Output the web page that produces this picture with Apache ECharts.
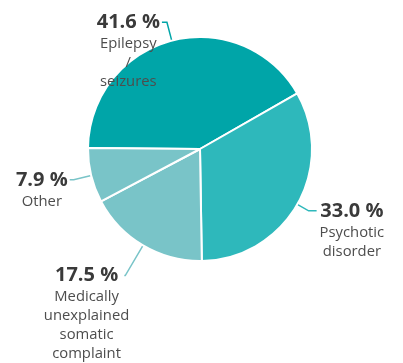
<!DOCTYPE html>
<html>
<head>
<meta charset="utf-8">
<script src="https://cdn.jsdelivr.net/npm/echarts@6/dist/echarts.min.js"></script>
<style>
  html, body { margin: 0; padding: 0; background: #fff; }
  #chart { width: 403px; height: 363px; }
</style>
</head>
<body>
<div id="chart"></div>
<script>
// data
const categories = ['Epilepsy / seizures', 'Psychotic disorder', 'Medically unexplained somatic complaint', 'Other'];
const shares = [41.6, 33.0, 17.5, 7.9];
const colors = ['#00a5a8', '#2eb8bb', '#79c4c8', '#79c4c8'];

// label line tuning per slice: [length, length2, distanceToLabelLine]
const labelLines = [[19, 5, 2], [13, 8, 3], [35, 1, -5], [18, 4, 2]];

const NAME_LH = 19;
const VALUE_LH = 24;

const chart = echarts.init(document.getElementById('chart'));

const pieData = categories.map(function (name, i) {
    const words = name.split(' ');
    return {
        name: name,
        value: shares[i],
        itemStyle: { color: colors[i] },
        label: {
            // push the block down so the first (value) line sits on the label line
            padding: [words.length * NAME_LH, 0, 0, 0],
            distanceToLabelLine: labelLines[i][2]
        },
        labelLine: {
            length: labelLines[i][0],
            length2: labelLines[i][1],
            lineStyle: { color: colors[i] }
        }
    };
});

const option = {
    backgroundColor: '#fff',
    animation: false,
    series: [{
        type: 'pie',
        center: [200, 149],
        radius: [0, 112],
        startAngle: 179.5,
        clockwise: true,
        avoidLabelOverlap: false,
        silent: true,
        itemStyle: { borderColor: '#fff', borderWidth: 2 },
        label: {
            show: true,
            position: 'outside',
            fontFamily: 'Open Sans',
            formatter: function (p) {
                const lines = p.name.split(' ').map(function (w) { return '{n|' + w + '}'; });
                return '{v|' + p.value.toFixed(1) + ' %}\n' + lines.join('\n');
            },
            rich: {
                v: { fontFamily: 'Open Sans', fontSize: 20, fontWeight: 'bold', color: '#3a3a3a', lineHeight: VALUE_LH, align: 'center' },
                n: { fontFamily: 'Open Sans', fontSize: 14.8, color: '#4d4d4d', lineHeight: NAME_LH, align: 'center' }
            }
        },
        labelLine: {
            show: true,
            smooth: false,
            lineStyle: { width: 1.5 }
        },
        data: pieData
    }]
};

chart.setOption(option);
</script>
</body>
</html>
